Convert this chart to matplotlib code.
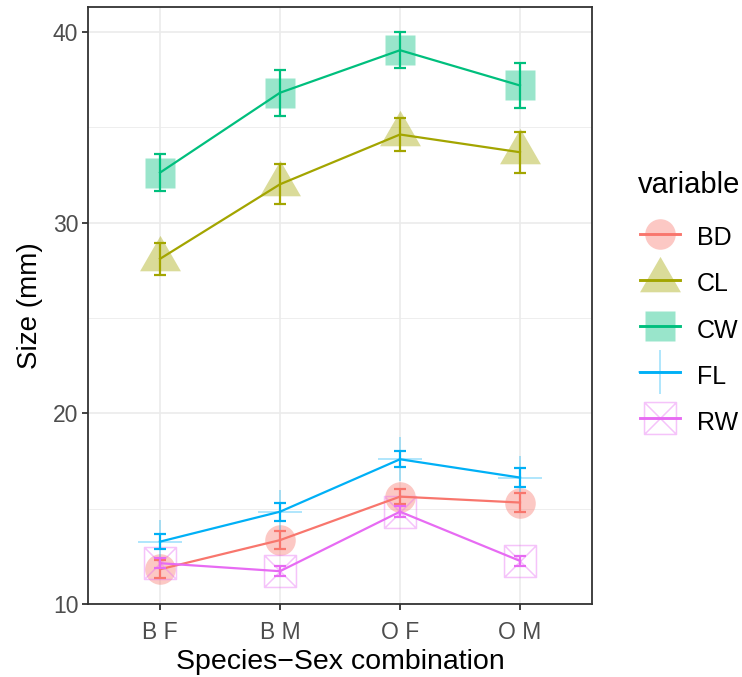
import numpy as np
import matplotlib
matplotlib.use("Agg")
import matplotlib.pyplot as plt
from matplotlib.path import Path
from matplotlib.lines import Line2D
from matplotlib.legend_handler import HandlerTuple

plt.rcParams['font.family'] = ['Liberation Sans', 'DejaVu Sans']

groups = ['B F', 'B M', 'O F', 'O M']
variables = ['BD', 'CL', 'CW', 'FL', 'RW']

# mean size per species-sex group
means = {
    'BD': [11.82, 13.35, 15.63, 15.32],
    'CL': [28.10, 32.01, 34.62, 33.69],
    'CW': [32.62, 36.81, 39.04, 37.19],
    'FL': [13.27, 14.84, 17.59, 16.63],
    'RW': [12.14, 11.72, 14.84, 12.26],
}
# half-width of the error bars
errs = {
    'BD': [0.48, 0.48, 0.38, 0.49],
    'CL': [0.84, 1.05, 0.84, 1.08],
    'CW': [0.97, 1.20, 0.95, 1.20],
    'FL': [0.41, 0.47, 0.42, 0.50],
    'RW': [0.26, 0.26, 0.30, 0.28],
}

colors = {'BD': '#F8766D', 'CL': '#A3A500', 'CW': '#00BF7D',
          'FL': '#00B0F6', 'RW': '#E76BF3'}

# triangle centred on its centroid, like R's pch 17
tri = Path([(0, 1), (-0.866, -0.5), (0.866, -0.5), (0, 1)],
           [Path.MOVETO, Path.LINETO, Path.LINETO, Path.CLOSEPOLY])
# square with crossed diagonals (pch 7)
boxx = Path([(-1, -1), (1, -1), (1, 1), (-1, 1), (-1, -1),
             (-1, -1), (1, 1), (-1, 1), (1, -1)],
            [Path.MOVETO, Path.LINETO, Path.LINETO, Path.LINETO, Path.CLOSEPOLY,
             Path.MOVETO, Path.LINETO, Path.MOVETO, Path.LINETO])

mstyle = {
    'BD': dict(marker='o', markersize=22, filled=True),
    'CL': dict(marker=tri, markersize=34, filled=True),
    'CW': dict(marker='s', markersize=22, filled=True),
    'FL': dict(marker='+', markersize=31, filled=False),
    'RW': dict(marker=boxx, markersize=23, filled=False),
}

fig = plt.figure(figsize=(7.42, 6.77), dpi=100)
W, H = 742, 677
ax = fig.add_axes([88 / W, (H - 604) / H, (592 - 88) / W, (604 - 7) / H])

x = np.arange(len(groups))
lw = 1.6
handles = []
for v in variables:
    c = colors[v]
    st = mstyle[v]
    if st['filled']:
        mk = dict(marker=st['marker'], markersize=st['markersize'],
                  markerfacecolor=c, markeredgecolor='none', alpha=0.4)
    else:
        mk = dict(marker=st['marker'], markersize=st['markersize'],
                  markerfacecolor='none', markeredgecolor=c,
                  markeredgewidth=1.1, alpha=0.4)
    ax.plot(x, means[v], linestyle='none', zorder=2, **mk)
    ax.plot(x, means[v], color=c, lw=lw, zorder=3)
    ax.errorbar(x, means[v], yerr=errs[v], fmt='none', ecolor=c,
                elinewidth=lw, capsize=4.3, capthick=lw, zorder=4)
    h_pt = Line2D([], [], linestyle='none', **mk)
    h_ln = Line2D([], [], color=c, lw=lw * 1.3)
    handles.append((h_pt, h_ln))

ax.set_xlim(-0.6, 3.6)
ax.set_ylim(10, 10 + (604 - 7) / 19.07)
ax.set_xticks(x)
ax.set_xticklabels(groups)
ax.set_yticks([10, 20, 30, 40])
ax.set_yticks([15, 25, 35], minor=True)
ax.grid(which='major', color='#EBEBEB', lw=1.2)
ax.grid(which='minor', axis='y', color='#EBEBEB', lw=0.6)
ax.set_axisbelow(True)
for s in ax.spines.values():
    s.set_color('#333333')
    s.set_linewidth(1.3)
ax.tick_params(which='major', length=4, width=1.3, color='#333333',
               labelsize=16.5, labelcolor='#4D4D4D')
ax.tick_params(axis='x', pad=8)
ax.tick_params(axis='y', pad=3)
ax.tick_params(which='minor', length=0)
ax.set_xlabel('Species\u2212Sex combination', fontsize=20.5, labelpad=4)
ax.set_ylabel('Size (mm)', fontsize=20, labelpad=7)

# legend title as its own text so the gap to the keys can be set freely
fig.text(638 / W, 1 - 185 / H, 'variable', fontsize=21, ha='left', va='center')
leg = fig.legend(handles, variables,
                 handler_map={tuple: HandlerTuple(ndivide=1, pad=0)},
                 loc='upper left', bbox_to_anchor=(640 / W, 1 - 222 / H),
                 frameon=False, fontsize=18,
                 handlelength=1.6, handleheight=1.45, labelspacing=0.66,
                 handletextpad=0.68, borderaxespad=0, borderpad=0)

fig.savefig('out.png', dpi=100)
